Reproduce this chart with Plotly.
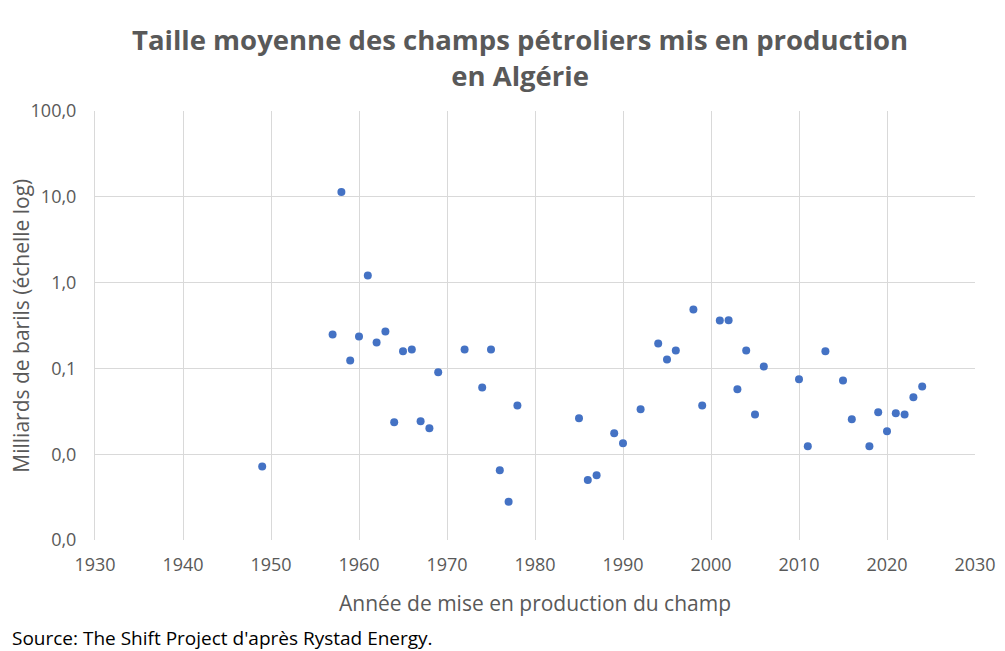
import plotly.graph_objects as go

years = [1949, 1957, 1958, 1959, 1960, 1961, 1962, 1963, 1964, 1965, 1966, 1967, 1968, 1969,
         1972, 1974, 1975, 1976, 1977, 1978, 1985, 1986, 1987, 1989, 1990, 1992, 1994, 1995,
         1996, 1998, 1999, 2001, 2002, 2003, 2004, 2005, 2006, 2010, 2011, 2013, 2015, 2016,
         2018, 2019, 2020, 2021, 2022, 2023, 2024]
sizes = [0.0072, 0.248, 11.4, 0.124, 0.235, 1.21, 0.200, 0.269, 0.0235, 0.158, 0.166, 0.0242,
         0.0200, 0.090, 0.166, 0.060, 0.166, 0.0065, 0.0028, 0.037, 0.0262, 0.0050, 0.0057,
         0.0175, 0.0134, 0.0334, 0.195, 0.127, 0.162, 0.486, 0.037, 0.361, 0.365, 0.057, 0.162,
         0.029, 0.105, 0.0745, 0.0124, 0.158, 0.0724, 0.0255, 0.0124, 0.0308, 0.0185, 0.030,
         0.029, 0.046, 0.0616]

y_tickvals = [0.001, 0.01, 0.1, 1, 10, 100]
y_ticktext = ["0,0", "0,0", "0,1", "1,0", "10,0", "100,0"]
x_tickvals = list(range(1930, 2031, 10))

FONT = "Open Sans"
GRAY = "#595959"

fig = go.Figure()
fig.add_trace(go.Scatter(
    x=years, y=sizes, mode="markers",
    marker=dict(color="#4472C4", size=8, line=dict(width=0)),
    showlegend=False, hoverinfo="x+y"))

fig.update_layout(
    width=997, height=643,
    paper_bgcolor="white", plot_bgcolor="white",
    margin=dict(l=87, r=30, t=103, b=111, autoexpand=False),
    font=dict(family=FONT, color=GRAY),
    xaxis=dict(range=[1930, 2030], tickvals=x_tickvals, showgrid=True, gridcolor="#D9D9D9",
               gridwidth=1, zeroline=False, showline=False, automargin=False,
               tickfont=dict(size=18, color=GRAY), ticks="", ticklabelstandoff=12),
    yaxis=dict(type="log", range=[-3, 2], tickvals=y_tickvals, ticktext=y_ticktext,
               showgrid=True, gridcolor="#D9D9D9", gridwidth=1, zeroline=False,
               showline=True, linecolor="#D9D9D9", ticks="", automargin=False,
               tickfont=dict(size=18, color=GRAY), ticklabelstandoff=14),
)

fig.add_annotation(text="<b>Taille moyenne des champs pétroliers mis en production<br>en Algérie</b>",
                   xref="paper", yref="paper", x=0.4835, y=1.124, xanchor="center", yanchor="middle",
                   showarrow=False, font=dict(family=FONT, size=27.5, color=GRAY))
fig.add_annotation(text="Année de mise en production du champ",
                   xref="paper", yref="paper", x=0.5, y=-0.147, xanchor="center", yanchor="middle",
                   showarrow=False, font=dict(family=FONT, size=21, color=GRAY))
fig.add_annotation(text="Milliards de barils (échelle log)", textangle=-90,
                   xref="paper", yref="paper", x=-0.085, y=0.5, xanchor="center", yanchor="middle",
                   showarrow=False, font=dict(family=FONT, size=21, color=GRAY))
fig.add_annotation(text="Source: The Shift Project d'après Rystad Energy.",
                   xref="paper", yref="paper", x=-0.0966, y=-0.229, xanchor="left", yanchor="middle",
                   showarrow=False, font=dict(family=FONT, size=19, color="black"))

fig.write_html("out.html")
